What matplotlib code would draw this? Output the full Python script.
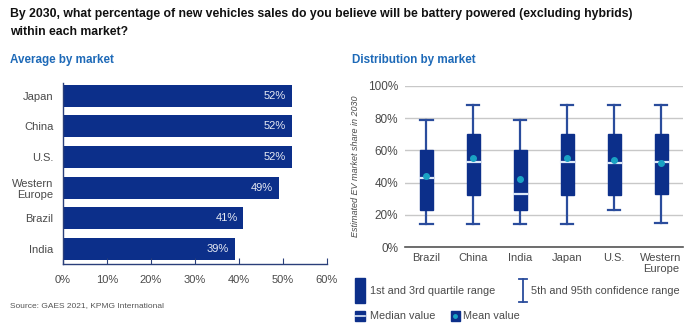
import numpy as np
import matplotlib.pyplot as plt
from matplotlib.patches import Rectangle
from matplotlib.lines import Line2D

plt.rcParams['font.family'] = ['Liberation Sans', 'DejaVu Sans']

# average share by market
markets = ["Japan", "China", "U.S.", "Western\nEurope", "Brazil", "India"]
avg_share = [52, 52, 52, 49, 41, 39]

# distribution by market
dist_markets = ["Brazil", "China", "India", "Japan", "U.S.", "Western\nEurope"]
p5 = [14, 14, 14, 14, 23, 15]
q1 = [23, 32, 23, 32, 32, 33]
median = [43, 53, 33, 53, 52, 53]
q3 = [60, 70, 60, 70, 70, 70]
p95 = [79, 88, 79, 88, 88, 88]
mean = [44, 55.5, 42, 55, 54, 52]

navy = "#0c2f8a"
whisk = "#2a4c9c"
teal = "#1aa3c4"
blue_txt = "#1e6ab8"
grey_txt = "#4a4a4a"

fig = plt.figure(figsize=(7, 3.32), dpi=100)

fig.text(0.014, 0.975, "By 2030, what percentage of new vehicles sales do you believe will be battery powered (excluding hybrids)\nwithin each market?",
         fontsize=8.8, fontweight="bold", color="#111111", va="top", linespacing=1.6)
fig.text(0.014, 0.82, "Average by market", fontsize=8.4, fontweight="bold", color=blue_txt, va="center")
fig.text(0.503, 0.82, "Distribution by market", fontsize=8.4, fontweight="bold", color=blue_txt, va="center")
fig.text(0.014, 0.08, "Source: GAES 2021, KPMG International", fontsize=6, color="#555555", va="center")

# left: horizontal bars
ax1 = fig.add_axes([0.09, 0.205, 0.377, 0.545])
y = np.arange(len(markets))
ax1.barh(y, avg_share, height=0.72, color=navy)
for yi, v in zip(y, avg_share):
    ax1.text(v - 1.3, yi, f"{v}%", color="white", ha="right", va="center", fontsize=8, alpha=0.9)
ax1.set_ylim(5.49, -0.41)
ax1.set_xlim(0, 60)
ax1.set_yticks(y)
ax1.set_yticklabels(markets, fontsize=8, color=grey_txt, linespacing=1.2)
ax1.set_xticks(np.arange(0, 61, 10))
ax1.set_xticklabels([f"{t}%" for t in range(0, 61, 10)], fontsize=8, color=grey_txt)
ax1.tick_params(axis="y", length=0, pad=7)
ax1.tick_params(axis="x", direction="in", length=4, color="#2a3f7a", pad=8)
for s in ["top", "right"]:
    ax1.spines[s].set_visible(False)
for s in ["left", "bottom"]:
    ax1.spines[s].set_color("#2a3f7a")
    ax1.spines[s].set_linewidth(1)

# right: quartile boxes with 5th/95th whiskers
ax2 = fig.add_axes([0.579, 0.256, 0.397, 0.485])
x = np.arange(len(dist_markets))
bw = 0.28
cap = 0.13
for xi in x:
    ax2.plot([xi, xi], [p5[xi], p95[xi]], color=whisk, lw=1.6, zorder=2)
    ax2.plot([xi - cap, xi + cap], [p95[xi], p95[xi]], color=whisk, lw=1.6, zorder=2)
    ax2.plot([xi - cap, xi + cap], [p5[xi], p5[xi]], color=whisk, lw=1.6, zorder=2)
    ax2.add_patch(Rectangle((xi - bw / 2, q1[xi]), bw, q3[xi] - q1[xi], color=navy, zorder=3))
    ax2.plot([xi - bw / 2, xi + bw / 2], [median[xi], median[xi]], color="#dce8f8", lw=1.6, zorder=4)
ax2.scatter(x, mean, s=16, color=teal, zorder=5)
ax2.set_xlim(-0.45, 5.47)
ax2.set_ylim(0, 100)
ax2.set_yticks(np.arange(0, 101, 20))
ax2.set_yticklabels([f"{t}%" for t in range(0, 101, 20)], fontsize=8.5, color=grey_txt)
ax2.set_xticks(x)
ax2.set_xticklabels(dist_markets, fontsize=8, color=grey_txt, va="top", linespacing=1.2)
ax2.tick_params(axis="both", length=0)
ax2.tick_params(axis="y", pad=5)
ax2.tick_params(axis="x", pad=4)
ax2.grid(axis="y", color="#c8c8c8", lw=1)
ax2.set_axisbelow(True)
for s in ["top", "right", "left"]:
    ax2.spines[s].set_visible(False)
ax2.spines["bottom"].set_color("#555555")
ax2.spines["bottom"].set_linewidth(1.2)
ax2.set_ylabel("Estimated EV market share in 2030", fontsize=6.5, style="italic", color=grey_txt, labelpad=6)

# legend keys drawn in figure coords
fig.patches.append(Rectangle((0.507, 0.087), 0.014, 0.075, transform=fig.transFigure, color=navy))
fig.text(0.528, 0.122, "1st and 3rd quartile range", fontsize=7.8, color=grey_txt, va="center")
lx = 0.747
fig.lines.append(Line2D([lx, lx], [0.09, 0.16], transform=fig.transFigure, color=whisk, lw=1.3))
fig.lines.append(Line2D([lx - 0.006, lx + 0.006], [0.16, 0.16], transform=fig.transFigure, color=whisk, lw=1.3))
fig.lines.append(Line2D([lx - 0.006, lx + 0.006], [0.09, 0.09], transform=fig.transFigure, color=whisk, lw=1.3))
fig.text(0.758, 0.122, "5th and 95th confidence range", fontsize=7.8, color=grey_txt, va="center")

fig.patches.append(Rectangle((0.507, 0.034), 0.014, 0.028, transform=fig.transFigure, color=navy))
fig.lines.append(Line2D([0.507, 0.521], [0.048, 0.048], transform=fig.transFigure, color="#dce8f8", lw=1.2))
fig.text(0.528, 0.048, "Median value", fontsize=7.8, color=grey_txt, va="center")
fig.patches.append(Rectangle((0.644, 0.033), 0.013, 0.03, transform=fig.transFigure, color=navy))
fig.lines.append(Line2D([0.6505], [0.048], transform=fig.transFigure, marker="o", ms=2.5, color=teal))
fig.text(0.661, 0.048, "Mean value", fontsize=7.8, color=grey_txt, va="center")

fig.savefig("out.png", dpi=100)
